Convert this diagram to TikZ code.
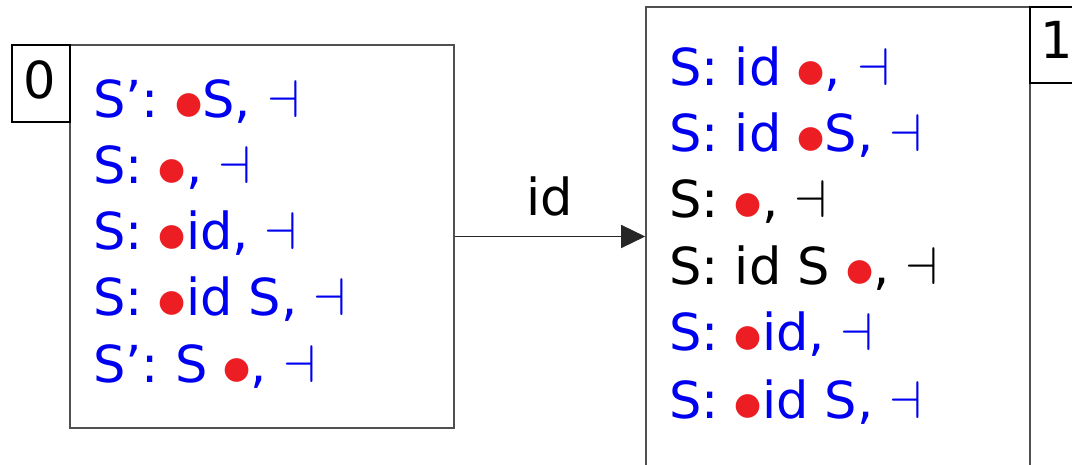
\documentclass[tikz,border=0pt]{standalone}
\usepackage{fontspec}
\setmainfont{DejaVu Sans}
\usetikzlibrary{arrows.meta}
\definecolor{itemblue}{RGB}{0,0,240}
\definecolor{dotred}{RGB}{236,30,36}
\definecolor{boxgray}{RGB}{80,80,80}
\newcommand\rdot{\raisebox{4pt}{\color{dotred}\fontsize{31}{31}\selectfont ●}}
\newcommand\myeot{\scalebox{5.3}{\normalsize$\dashv$}}
\tikzset{
  statebox/.style={draw=boxgray, line width=1.6pt, inner sep=0pt},
  labbox/.style={draw=black, line width=1.3pt, inner sep=0pt},
  item/.style={anchor=base west, inner sep=0pt, font=\fontsize{51}{51}\selectfont, text=itemblue},
  kitem/.style={item, text=black},
  conn/.style={draw=black!85, line width=1.4pt, -{Triangle[length=24pt,width=23pt]}},
}
\begin{document}
\begin{tikzpicture}[x=1pt,y=-1pt]
\useasboundingbox (0,0) rectangle (1072,465);
\clip (0,0) rectangle (1072,465);
% state 0
\node[statebox, minimum width=384pt, minimum height=383pt] (box0) at (262,236.5) {};
\node[labbox, minimum width=58pt, minimum height=77pt] (lab0) at (41,83.5) {};
\node[font=\fontsize{51}{51}\selectfont, anchor=base, inner sep=0pt] (n0) at (40,99) {0};
\node[item] (a1) at (93,118) {S': \rdot S, \myeot};
\node[item] (a2) at (93,184) {S: \rdot, \myeot};
\node[item] (a3) at (93,250) {S: \rdot id, \myeot};
\node[item] (a4) at (93,316) {S: \rdot id S, \myeot};
\node[item] (a5) at (93,382) {S': S \rdot, \myeot};
% state 1
\node[statebox, minimum width=384pt, minimum height=500pt] (box1) at (838,257) {};
\node[labbox, minimum width=70pt, minimum height=76pt] (lab1) at (1065,45) {};
\node[font=\fontsize{51}{51}\selectfont, anchor=base west, inner sep=0pt] (n1) at (1040,59) {1};
\node[item] (b1) at (669,86) {S: id \rdot, \myeot};
\node[item] (b2) at (669,152) {S: id \rdot S, \myeot};
\node[kitem] (b3) at (669,218) {S: \rdot, \myeot};
\node[kitem] (b4) at (669,285) {S: id S \rdot, \myeot};
\node[item] (b5) at (669,351) {S: \rdot id, \myeot};
\node[item] (b6) at (669,418) {S: \rdot id S, \myeot};
% transition
\draw[conn] (box0.east) -- (box0.east -| box1.west);
\node[font=\fontsize{51}{51}\selectfont, anchor=base, inner sep=0pt] (t1) at (550,216) {id};
\end{tikzpicture}
\end{document}
